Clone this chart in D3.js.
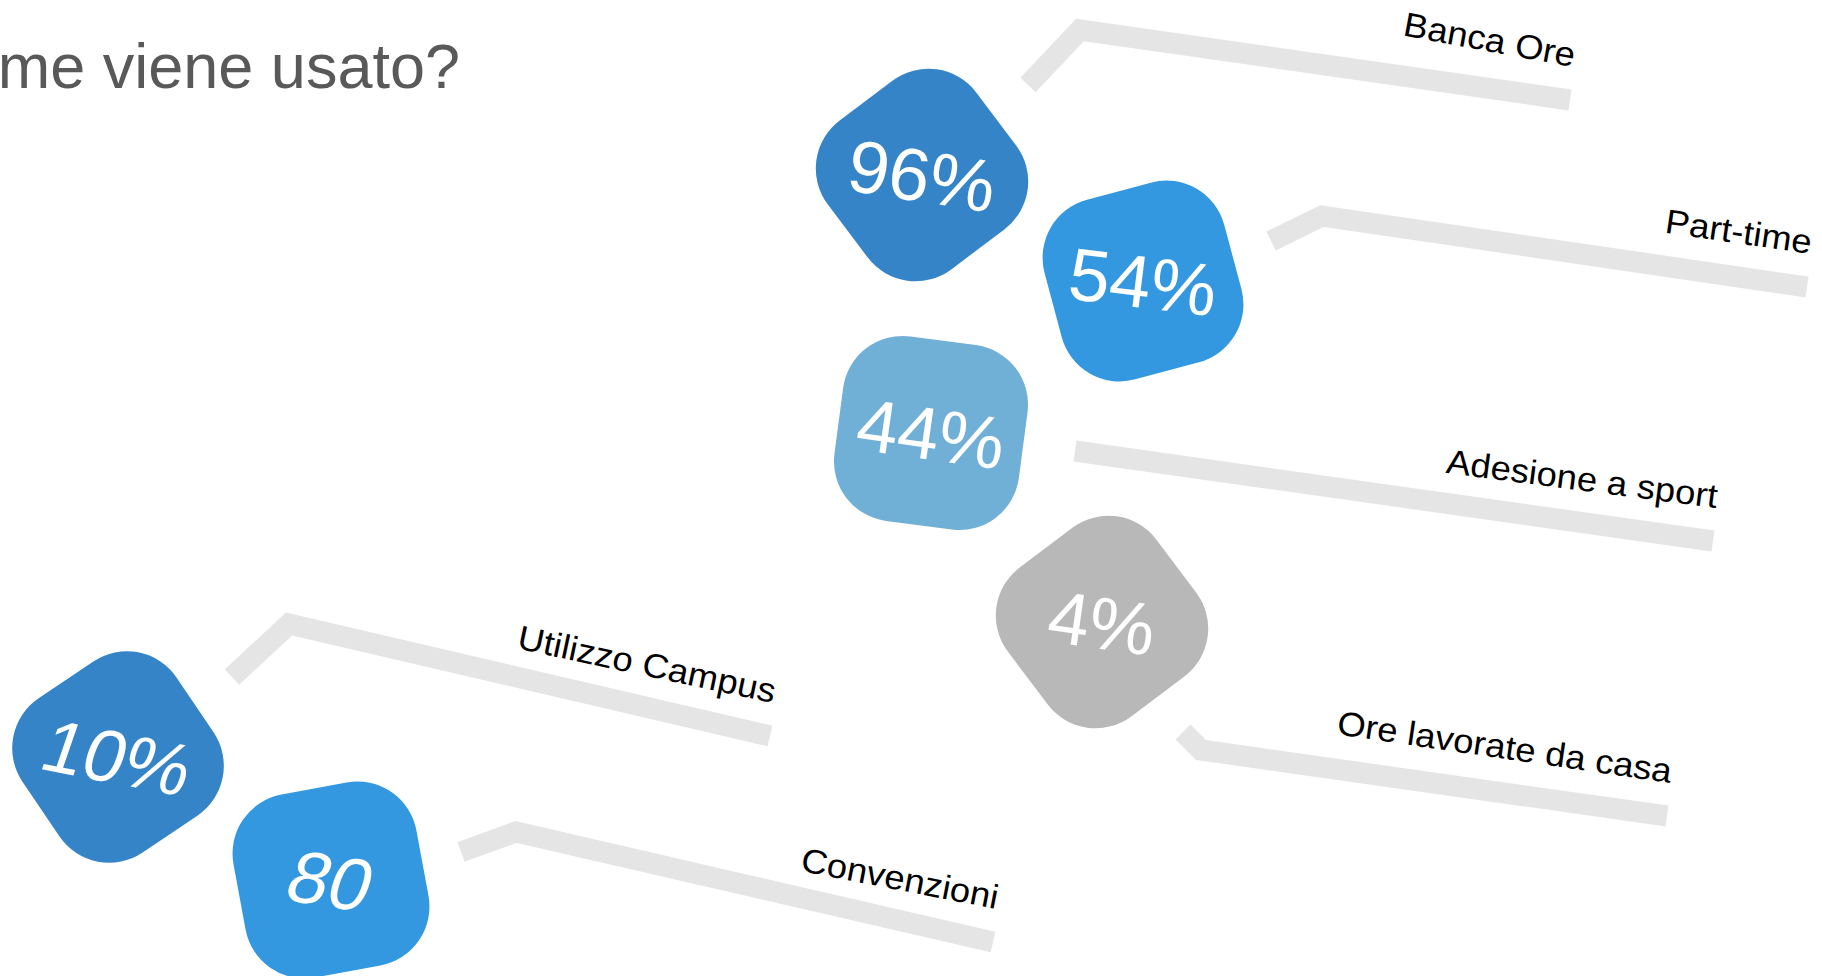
<!DOCTYPE html>
<html>
<head>
<meta charset="utf-8">
<script src="https://cdn.jsdelivr.net/npm/d3@7"></script>
<style>
  html, body { margin: 0; padding: 0; background: #ffffff; overflow: hidden; }
  svg { display: block; font-family: Arial, "Liberation Sans", Helvetica, sans-serif; }
</style>
</head>
<body>
<script>
// ---------- data ----------
const title = "Come viene usato?";
const categories = ["Banca Ore", "Part-time", "Adesione a sport", "Ore lavorate da casa", "Utilizzo Campus", "Convenzioni"];
const values = [96, 54, 44, 4, 10, 80];
const valueLabels = ["96%", "54%", "44%", "4%", "10%", "80"];
const colorGroups = ["dark", "bright", "light", "gray", "dark", "bright"];

// ---------- styling / layout ----------
const W = 1822, H = 976;
const color = d3.scaleOrdinal()
  .domain(["dark", "bright", "light", "gray"])
  .range(["#3584C8", "#3398E0", "#70B0D7", "#B8B8B8"]);

// placement of each badge on the slide (layout only)
const layout = [
  { cx: 922,  cy: 175, rot: -37, tRot: 9,  tSkew: 0,   line: [[1028, 85], [1080, 30], [1570, 100]], lRot: 10.5 },
  { cx: 1143, cy: 281, rot: -15, tRot: 7,  tSkew: 0,   line: [[1271, 241], [1322, 216], [1807, 287]], lRot: 8.4 },
  { cx: 931,  cy: 433, rot: 7.5, tRot: 8,  tSkew: 0,   line: [[1075, 451], [1713, 541]], lRot: 7.4 },
  { cx: 1102, cy: 622, rot: -37, tRot: 8,  tSkew: 0,   line: [[1183, 732], [1201, 750], [1667, 816]], lRot: 8.3 },
  { cx: 118,  cy: 757, rot: -34, tRot: 11, tSkew: -8,  line: [[232, 677], [289, 624], [770, 736]], lRot: 12 },
  { cx: 331,  cy: 880, rot: -10.5, tRot: 9, tSkew: -10, line: [[461, 852], [516, 832], [993, 942]], lRot: 11 }
];
const side = 186, corner = 60;

const items = categories.map((c, i) => ({
  category: c, value: values[i], label: valueLabels[i], group: colorGroups[i], ...layout[i]
}));

const svg = d3.select("body").append("svg").attr("width", W).attr("height", H);

// title (cropped at the left edge as in the slide)
svg.append("text")
  .attr("x", 460).attr("y", 88)
  .attr("text-anchor", "end")
  .attr("font-size", 63)
  .attr("fill", "#595959")
  .text(title);

const line = d3.line();

// connectors
svg.append("g").selectAll("path")
  .data(items).join("path")
  .attr("d", d => line(d.line))
  .attr("fill", "none")
  .attr("stroke", "#E5E5E5")
  .attr("stroke-width", 21)
  .attr("stroke-linejoin", "miter")
  .attr("stroke-linecap", "butt");

// category labels, right-aligned above connector end
svg.append("g").selectAll("text")
  .data(items).join("text")
  .attr("transform", d => {
    const e = d.line[d.line.length - 1];
    return `translate(${e[0] + 3},${e[1] - 33}) rotate(${d.lRot}) scale(1.07,1)`;
  })
  .attr("text-anchor", "end")
  .attr("font-size", 34)
  .attr("fill", "#000000")
  .text(d => d.category);

// badges
const badge = svg.append("g").selectAll("g")
  .data(items).join("g");

badge.append("rect")
  .attr("x", -side / 2).attr("y", -side / 2)
  .attr("width", side).attr("height", side)
  .attr("rx", corner).attr("ry", corner)
  .attr("transform", d => `translate(${d.cx},${d.cy}) rotate(${d.rot})`)
  .attr("fill", d => color(d.group));

badge.append("text")
  .attr("transform", d => `translate(${d.cx},${d.cy}) rotate(${d.tRot}) skewX(${d.tSkew})`)
  .attr("text-anchor", "middle")
  .attr("dy", "0.36em")
  .attr("font-size", 74)
  .attr("fill", "#ffffff")
  .text(d => d.label);
</script>
</body>
</html>
